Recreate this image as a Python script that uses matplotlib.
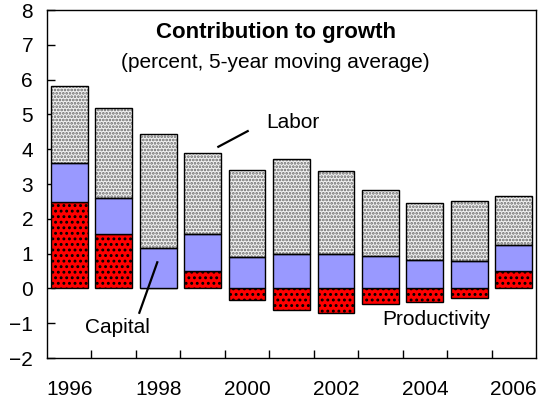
import matplotlib
matplotlib.use("Agg")
import matplotlib.pyplot as plt
import numpy as np

# contribution to growth, percent, 5-year moving average
years = [1996, 1997, 1998, 1999, 2000, 2001, 2002, 2003, 2004, 2005, 2006]
productivity = [2.49, 1.56, 0.0, 0.51, -0.34, -0.62, -0.72, -0.45, -0.40, -0.29, 0.50]
capital = [1.10, 1.05, 1.15, 1.05, 0.89, 0.98, 0.98, 0.94, 0.83, 0.78, 0.76]
labor = [2.24, 2.56, 3.30, 2.34, 2.51, 2.74, 2.40, 1.88, 1.61, 1.72, 1.40]
year_labels = ["1996", "", "1998", "", "2000", "", "2002", "", "2004", "", "2006"]


def main():
    plt.rcParams['font.family'] = ['Liberation Sans', 'DejaVu Sans']
    plt.rcParams['font.size'] = 15
    plt.rcParams['hatch.linewidth'] = 1.3

    fig = plt.figure(figsize=(5.44, 4.01), dpi=100)
    ax = fig.add_axes([47 / 544, 1 - 358 / 401, 489 / 544, 348 / 401])

    x = np.arange(len(years))
    w = 0.83
    prod = np.array(productivity)
    cap = np.array(capital)
    lab = np.array(labor)
    cap_bottom = np.maximum(prod, 0)
    lab_bottom = cap_bottom + cap

    # productivity: red with black dots
    ax.bar(x, prod, w, color="#ff0000", edgecolor="none", zorder=2)
    ax.bar(x, prod, w, color="none", edgecolor="black", hatch="...", linewidth=0, zorder=3)
    ax.bar(x, prod, w, color="none", edgecolor="black", linewidth=1, zorder=4)

    # capital
    ax.bar(x, cap, w, bottom=cap_bottom, color="#9999ff", edgecolor="black", linewidth=1, zorder=4)

    # labor: light with grey dots
    ax.bar(x, lab, w, bottom=lab_bottom, color="#f2f2f2", edgecolor="none", zorder=2)
    ax.bar(x, lab, w, bottom=lab_bottom, color="none", edgecolor="#666666", hatch=".....",
           linewidth=0, zorder=3)
    ax.bar(x, lab, w, bottom=lab_bottom, color="none", edgecolor="black", linewidth=1, zorder=4)

    ax.set_xlim(-0.5, len(years) - 0.5)
    ax.set_ylim(-2, 8)
    ax.set_yticks(range(-2, 9))
    ax.set_xticks(x)
    ax.set_xticklabels(year_labels)
    ax.set_xticks(np.arange(0.5, len(years) - 1, 1), minor=True)
    ax.tick_params(axis="x", which="major", length=0, pad=16)
    ax.tick_params(axis="x", which="minor", direction="in", length=6, width=1)
    ax.tick_params(axis="y", direction="in", length=6, width=1, pad=10)
    for s in ax.spines.values():
        s.set_linewidth(1)

    ax.text(4.66, 7.34, "Contribution to growth", ha="center", va="center",
            fontweight="bold", fontsize=16)
    ax.text(4.64, 6.49, "(percent, 5-year moving average)", ha="center", va="center")

    ax.text(4.43, 4.76, "Labor", ha="left", va="center")
    ax.plot([3.354, 4.015], [4.07, 4.52], color="black", lw=1.6, zorder=5)
    ax.text(0.355, -1.11, "Capital", ha="left", va="center")
    ax.plot([1.577, 1.981], [-0.70, 0.75], color="black", lw=1.6, zorder=5)
    ax.text(7.05, -0.88, "Productivity", ha="left", va="center")

    fig.savefig("out.png", dpi=100)


if __name__ == '__main__':
    main()
